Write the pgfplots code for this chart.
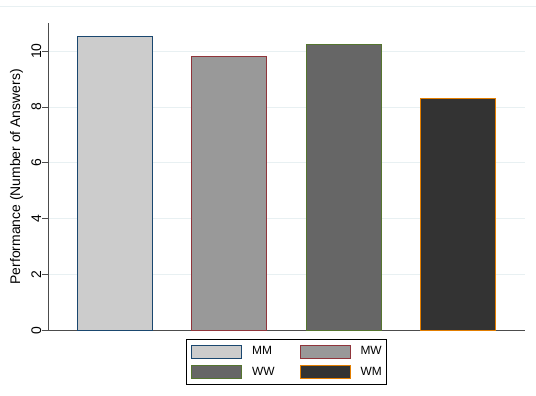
\documentclass[border=0pt]{standalone}
\usepackage{pgfplots}
\pgfplotsset{compat=1.18}
\usepackage{fontspec}
\setmainfont{Liberation Sans}
\definecolor{stnavy}{RGB}{26,71,111}
\definecolor{stmaroon}{RGB}{144,53,59}
\definecolor{stforest}{RGB}{85,117,47}
\definecolor{storange}{RGB}{227,126,0}
\definecolor{gridc}{RGB}{232,240,242}
\pgfplotsset{
  mybar/.style={ybar, bar width=75bp, bar shift=0pt, line width=1bp,
    legend image code/.code={\draw[##1, line width=1bp] (0bp,-6.5bp) rectangle (50bp,6.5bp);}},
}
\begin{document}
\begin{tikzpicture}[x=1bp,y=1bp]
\path (0,0) rectangle (536,396);
\draw[gridc, line width=1bp] (0,389) -- (536,389);
\begin{axis}[
  at={(48bp,65bp)}, anchor=south west,
  scale only axis, width=477bp, height=307.7bp,
  xmin=-0.58, xmax=3.58, ymin=0, ymax=11,
  axis x line*=bottom, axis y line*=left,
  axis line style={black!70, line width=1bp},
  xtick=\empty,
  ytick={0,2,4,6,8,10},
  ymajorgrids, grid style={gridc, line width=1bp},
  tick style={black!70, line width=0.8bp},
  major tick length=6bp, tick align=outside,
  /pgf/number format/assume math mode=true,
  yticklabel style={rotate=90, anchor=south, font=\fontsize{14}{14}\selectfont, inner sep=1bp},
  ylabel={Performance (Number of Answers)},
  ylabel style={at={(axis description cs:-0.067,0.5)}, anchor=center, font=\fontsize{14}{14}\selectfont},
  legend columns=2,
  legend cell align=left,
  legend style={at={(axis description cs:0.5,-0.1024)}, anchor=center,
    draw=black, line width=0.8bp, inner xsep=5bp, inner ysep=5bp,
    row sep=6.5bp, font=\fontsize{12}{12}\selectfont,
    nodes={inner sep=0pt},
    /tikz/every odd column/.append style={column sep=10bp},
    /tikz/every even column/.append style={column sep=25bp}},
]
\addplot[mybar, fill=black!20, draw=stnavy] coordinates {(0,10.54)};
\addlegendentry{MM}
\addplot[mybar, fill=black!40, draw=stmaroon] coordinates {(1,9.82)};
\addlegendentry{MW}
\addplot[mybar, fill=black!60, draw=stforest] coordinates {(2,10.25)};
\addlegendentry{WW}
\addplot[mybar, fill=black!80, draw=storange] coordinates {(3,8.31)};
\addlegendentry{WM}
\end{axis}
\end{tikzpicture}
\end{document}
